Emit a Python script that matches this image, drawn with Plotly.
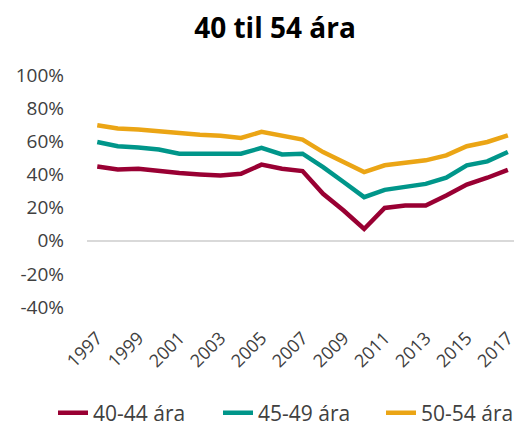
import plotly.graph_objects as go

years = list(range(1997, 2018))
age_40_44 = [44.8, 43.0, 43.4, 42.0, 40.8, 40.0, 39.4, 40.4, 45.9, 43.4, 42.0,
             28.3, 18.2, 7.1, 19.8, 21.2, 21.2, 27.3, 33.9, 38.0, 42.8]
age_45_49 = [59.6, 57.0, 56.2, 55.0, 52.5, 52.5, 52.5, 52.5, 56.0, 52.1, 52.5,
             44.4, 35.4, 26.3, 30.7, 32.3, 34.3, 38.0, 45.5, 47.9, 53.5]
age_50_54 = [69.7, 67.7, 67.1, 66.1, 64.6, 64.0, 63.4, 62.0, 65.7, 63.2, 61.0,
             53.5, 47.1, 41.4, 45.5, 46.9, 48.5, 51.5, 57.0, 59.6, 63.6]
series_names = ["40-44 ára", "45-49 ára", "50-54 ára"]
colors = ["#990033", "#00968A", "#EBA515"]
y_ticks = [-40, -20, 0, 20, 40, 60, 80, 100]
x_ticks = list(range(1997, 2018, 2))

W, H = 518, 426
legend_ids = ["legend", "legend2", "legend3"]
legend_left_px = [53, 218, 381]

fig = go.Figure()
for name, vals, c, lid in zip(series_names, [age_40_44, age_45_49, age_50_54],
                              colors, legend_ids):
    fig.add_trace(go.Scatter(x=years, y=vals, mode="lines", name=name,
                             legend=lid, line=dict(color=c, width=4.5)))

font_family = "Open Sans, Noto Sans, DejaVu Sans, sans-serif"
legend_common = dict(orientation="h", xanchor="left", xref="container",
                     y=1 - 413 / H, yanchor="middle", yref="container",
                     font=dict(size=21, color="#404040"), itemwidth=30,
                     bgcolor="rgba(0,0,0,0)")

fig.update_layout(
    width=W, height=H,
    paper_bgcolor="white", plot_bgcolor="white",
    margin=dict(l=87, r=0, t=75, b=119),
    font=dict(family=font_family, size=16, color="#404040"),
    title=dict(text="<b>40 til 54 ára</b>", x=275 / W, xanchor="center",
               y=1 - 28 / H, yanchor="middle",
               font=dict(size=28, color="#000000")),
    showlegend=True,
    legend=dict(x=legend_left_px[0] / W, **legend_common),
    legend2=dict(x=legend_left_px[1] / W, **legend_common),
    legend3=dict(x=legend_left_px[2] / W, **legend_common),
    xaxis=dict(range=[1996.5, 2017.3], tickvals=x_ticks,
               ticktext=[str(v) for v in x_ticks], tickangle=-45,
               showgrid=False, zeroline=False, showline=False, ticks="",
               ticklabelstandoff=16, ticklabeloverflow="allow",
               tickfont=dict(size=18, color="#404040")),
    yaxis=dict(range=[-40, 100], tickvals=y_ticks,
               ticktext=[f"{v}%" for v in y_ticks],
               showgrid=False, zeroline=True, zerolinecolor="#D9D9D9",
               zerolinewidth=1.5, showline=False, ticks="",
               ticklabelstandoff=22,
               tickfont=dict(size=19, color="#404040")),
)

fig.write_html("out.html", config={"displayModeBar": False},
               post_script="document.body.style.margin='0';document.body.style.overflow='hidden';")
